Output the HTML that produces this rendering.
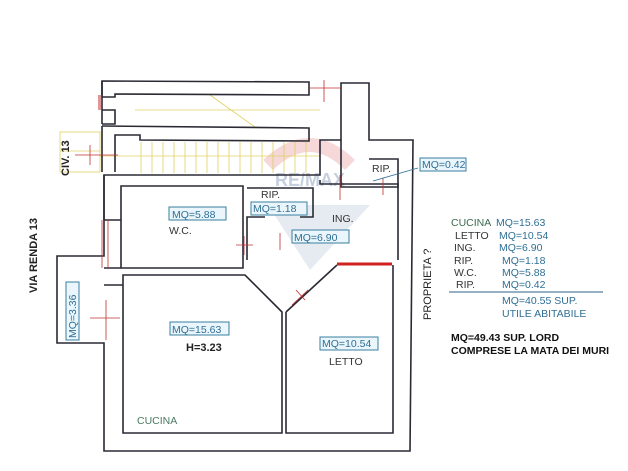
<!DOCTYPE html>
<html><head><meta charset="utf-8"><style>
html,body{margin:0;padding:0;background:#fff;}
svg{display:block;font-family:"Liberation Sans",sans-serif;}
.w{fill:none;stroke:#2a2a35;stroke-width:1.6}
.b{fill:#eaf6fb;stroke:#3a7fa0;stroke-width:1}
.bt{fill:#2f6f95;font-size:10.5px}
.k{fill:#333;font-size:10.5px}
.r{stroke:#c03030;stroke-width:0.8}
.y{stroke:#e0d060;stroke-width:0.8}
</style></head><body>
<svg width="628" height="471" viewBox="0 0 628 471">
<path d="M268,165 Q310,125 350,165" fill="none" stroke="#f2c8c8" stroke-width="14" opacity="0.7"/>
<path d="M268,205 L370,205 L310,270 Z" fill="#d4dde8" opacity="0.6"/>
<text x="275" y="186" font-size="18" fill="#b8c4d8" font-weight="bold" opacity="0.8">RE/MAX</text>
<g class="y">
<line x1="135" y1="110" x2="320" y2="110"/><line x1="210" y1="95" x2="255" y2="127"/>
<line x1="60" y1="151" x2="100" y2="151"/><rect x="60" y="132" width="40" height="40" fill="none"/>
<line x1="100" y1="156" x2="320" y2="156"/>
<g>
<line x1="141" y1="142" x2="141" y2="173"/><line x1="152" y1="142" x2="152" y2="173"/><line x1="163" y1="142" x2="163" y2="173"/><line x1="174" y1="142" x2="174" y2="173"/><line x1="185" y1="142" x2="185" y2="173"/><line x1="196" y1="142" x2="196" y2="173"/><line x1="207" y1="142" x2="207" y2="173"/><line x1="218" y1="142" x2="218" y2="173"/><line x1="229" y1="142" x2="229" y2="173"/><line x1="240" y1="142" x2="240" y2="173"/><line x1="251" y1="142" x2="251" y2="173"/><line x1="262" y1="142" x2="262" y2="173"/><line x1="273" y1="142" x2="273" y2="173"/><line x1="284" y1="142" x2="284" y2="173"/><line x1="295" y1="142" x2="295" y2="173"/><line x1="306" y1="142" x2="306" y2="173"/>
</g></g>
<g class="w">
<path d="M102,81 L309,82 L309,95 L115,94 L115,97 L102,97 Z"/>
<path d="M102,110 L115,110 L115,124 L102,124"/>
<path d="M102,124 L102,81"/>
<path d="M102,126 L309,128 L309,141 L140,140 L140,135 L115,135 L115,172"/>
<path d="M102,126 L102,172"/>
<path d="M341,83 L369,83 L369,140 L413,140 L410,451 L104,451 L104,343 L57,343 L57,256 L104,256 L104,175 L320,175 L320,140 L341,140 Z"/>
<path d="M104,175 L104,220"/>
<path d="M121,186 L243,186 L243,268 L121,268 Z"/>
<path d="M247,188 L313,188 L313,217 L300,217 M265,217 L247,217 L247,260"/>
<path d="M369,159 L398,159 L398,187 L369,187"/>
<path d="M320,180 L320,184 L398,184 L398,260"/>
<path d="M123,275 L245,275 L282,312 L282,433 L123,433 Z"/>
<path d="M286,312 L337,265 M286,312 L286,433 L393,433 L393,265"/>
<path d="M341,140 L341,187 L369,187"/>
<path d="M104,220 L121,220 M104,268 L121,268 M104,285 L123,285"/>
</g>
<line x1="337" y1="264" x2="392" y2="264" stroke="#d02020" stroke-width="3"/>
<g class="r">
<line x1="100" y1="95" x2="100" y2="110" stroke-width="4" opacity="0.5"/>
<line x1="310" y1="88" x2="341" y2="88"/><line x1="324" y1="80" x2="324" y2="102"/>
<line x1="75" y1="155" x2="118" y2="155"/><line x1="90" y1="145" x2="90" y2="165"/>
<line x1="102" y1="220" x2="102" y2="268"/><line x1="108" y1="220" x2="108" y2="268"/>
<line x1="90" y1="318" x2="120" y2="318"/><line x1="106" y1="300" x2="106" y2="340"/>
<line x1="236" y1="245" x2="253" y2="245"/><line x1="244" y1="236" x2="244" y2="255"/>
<line x1="340" y1="175" x2="340" y2="200"/><line x1="383" y1="178" x2="383" y2="195"/>
<line x1="280" y1="233" x2="280" y2="250"/>
<line x1="292" y1="305" x2="308" y2="290"/><line x1="296" y1="290" x2="305" y2="300"/>
</g>
<line x1="373" y1="181" x2="418" y2="168" stroke="#2f6f95" stroke-width="0.8"/>
<rect class="b" x="420" y="158" width="46" height="13"/><text class="bt" x="422" y="168">MQ=0.42</text>
<text class="k" x="372" y="172">RIP.</text>
<rect class="b" x="169" y="207" width="57" height="13"/><text class="bt" x="172" y="218">MQ=5.88</text>
<text class="k" x="169" y="234">W.C.</text>
<text class="k" x="261" y="198">RIP.</text>
<rect class="b" x="251" y="202" width="56" height="13"/><text class="bt" x="253" y="212">MQ=1.18</text>
<text class="k" x="332" y="222">ING.</text>
<rect class="b" x="292" y="230" width="57" height="13"/><text class="bt" x="294" y="241">MQ=6.90</text>
<rect class="b" x="170" y="322" width="59" height="13"/><text class="bt" x="172" y="333">MQ=15.63</text>
<text x="186" y="351" font-size="11" font-weight="bold" fill="#222">H=3.23</text>
<rect class="b" x="320" y="337" width="58" height="13"/><text class="bt" x="322" y="347">MQ=10.54</text>
<text class="k" x="329" y="365">LETTO</text>
<text x="137" y="424" font-size="10.5" fill="#4a7a60">CUCINA</text>
<rect class="b" x="66" y="282" width="13" height="58"/><text class="bt" transform="translate(76,338) rotate(-90)">MQ=3.36</text>
<text transform="translate(69,176) rotate(-90)" font-size="11" font-weight="bold" fill="#222">CIV. 13</text>
<text transform="translate(37,293) rotate(-90)" font-size="11" font-weight="bold" fill="#222">VIA RENDA 13</text>
<text transform="translate(431,320) rotate(-90)" font-size="11" fill="#222">PROPRIETA  ?</text>
<g font-size="10.5">
<text x="451" y="226" fill="#3a6a50">CUCINA</text><text x="496" y="226" fill="#2f6f95">MQ=15.63</text>
<text x="455" y="239" fill="#333">LETTO</text><text x="499" y="239" fill="#2f6f95">MQ=10.54</text>
<text x="454" y="251" fill="#333">ING.</text><text x="499" y="251" fill="#2f6f95">MQ=6.90</text>
<text x="454" y="264" fill="#333">RIP.</text><text x="502" y="264" fill="#2f6f95">MQ=1.18</text>
<text x="454" y="276" fill="#333">W.C.</text><text x="502" y="276" fill="#2f6f95">MQ=5.88</text>
<text x="456" y="288" fill="#333">RIP.</text><text x="502" y="288" fill="#2f6f95">MQ=0.42</text>
<line x1="449" y1="292" x2="603" y2="292" stroke="#2f5f85" stroke-width="1"/>
<text x="502" y="304" fill="#2f6f95">MQ=40.55 SUP.</text>
<text x="502" y="317" fill="#2f6f95">UTILE ABITABILE</text>
<text x="451" y="341" fill="#111" font-weight="bold">MQ=49.43 SUP. LORD</text>
<text x="451" y="354" fill="#111" font-weight="bold">COMPRESE LA MATA DEI MURI</text>
</g>
</svg>
</body></html>
